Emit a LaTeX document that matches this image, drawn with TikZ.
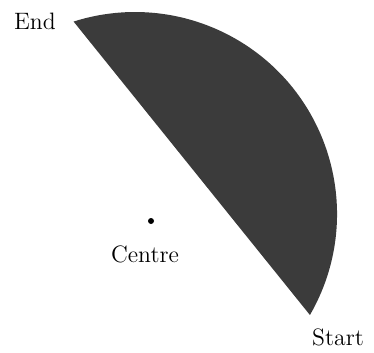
\documentclass[tikz,border=0pt]{standalone}
\usepackage{tikz}
\usetikzlibrary{positioning,calc}
\definecolor{segfill}{HTML}{3B3B3B}

\begin{document}
\begin{tikzpicture}[x=0.02cm,y=0.02cm,
      lbl/.style={anchor=base,inner sep=0pt,font=\fontsize{13.5}{16}\selectfont}]
    \useasboundingbox (0,0) rectangle (374,352);

    % ================= the segment =================
    \coordinate (arcctr) at (135,138);
    \coordinate (start) at ($(arcctr)+(-30:202)$);
    \coordinate (end) at ($(arcctr)+(107.7:202)$);
    \fill[segfill] (start) arc[start angle=-30,end angle=107.7,radius=202]
      -- cycle;

    % ================= centre and labels =================
    \fill (151,131) circle (3);
    \node[lbl] (endlbl) at (35,322) {End};
    \node[lbl] (ctrlbl) at (145,90) {Centre};
    \node[lbl] (startlbl) at (338,7) {Start};
  \end{tikzpicture}
\end{document}
